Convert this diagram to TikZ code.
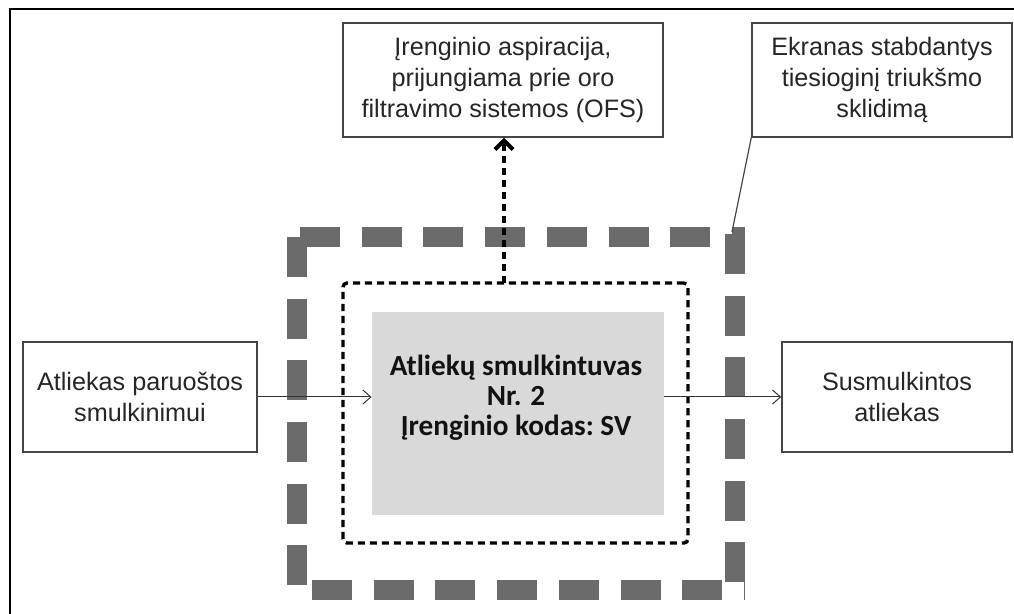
\documentclass[tikz,border=0pt]{standalone}
\usepackage{fontspec}
\setmainfont{Liberation Sans}
\newfontfamily\centerfont{Carlito}
\usetikzlibrary{arrows.meta}
\definecolor{thickgray}{RGB}{107,107,107}
\definecolor{boxline}{RGB}{70,70,70}
\definecolor{txt}{RGB}{38,38,38}
\definecolor{fillgray}{RGB}{217,217,217}
\tikzset{
  infobox/.style={draw=boxline, line width=0.75pt, fill=white, align=center, text=txt,
    font=\fontsize{12.6pt}{15.5pt}\selectfont, inner sep=0pt},
  thickdash/.style={draw=thickgray, line width=10pt, line cap=butt,
    dash pattern=on 20pt off 10.85pt},
  dotline/.style={draw=black, line width=1.7pt, line cap=butt,
    dash pattern=on 3.6pt off 2.4pt},
  flowarrow/.style={draw=black!80, line width=0.5pt, -{Straight Barb[length=4pt,width=7pt]}},
}
\begin{document}
\begin{tikzpicture}[x=0.5pt,y=-0.5pt]
\useasboundingbox (0,0) rectangle (1014,614);
% outer frame (top and left only)
\draw[line width=1pt] (10,614) -- (10,9) -- (1014,9);

% thick dashed screen
\draw[thickdash] (300,237.5) -- (745,237.5);
\draw[thickdash] (735,234) -- (735,600);
\draw[thickdash] (312,590) -- (745,590);
\draw[thickdash] (297,237) -- (297,600);

% inner dotted boundary
\node[draw=black, line width=1.7pt, dash pattern=on 3.6pt off 2.4pt, rounded corners=2pt,
      minimum width=172.5pt, minimum height=130pt, inner sep=0pt] (inner) at (515.5,413) {};

% machine
\node[fill=fillgray, minimum width=146pt, minimum height=101.5pt, inner sep=0pt] (machine) at (518,413.5) {};
\node[align=center, text=black!93, font=\centerfont\bfseries\fontsize{14.6pt}{15pt}\selectfont] (mlabel) at (516,398)
  {Atliekų smulkintuvas\\Nr. 2\\Įrenginio kodas:~SV};

% boxes
\node[infobox, minimum width=160pt, minimum height=57pt] (asp) at (503,80)
  {Įrenginio aspiracija,\\prijungiama prie oro\\filtravimo sistemos (OFS)};
\node[infobox, minimum width=130pt, minimum height=57pt] (ekr) at (882,80)
  {Ekranas stabdantys\\tiesioginį triukšmo\\sklidimą};
\node[infobox, minimum width=117pt, minimum height=55pt] (in) at (140,397)
  {Atliekas paruoštos\\smulkinimui};
\node[infobox, minimum width=115pt, minimum height=55pt] (out) at (897,397)
  {Susmulkintos\\atliekas};

% connectors
\draw[flowarrow] (in.east) -- (in.east -| machine.west);
\draw[flowarrow] (out.west -| machine.east) -- (out.west);
\coordinate (up) at (504,283);
\draw[dotline, -{Straight Barb[length=4.5pt,width=9pt,line width=2pt]}] (up) -- (up |- asp.south);
\coordinate (screencorner) at (732,232);
\draw[draw=boxline, line width=0.6pt] (ekr.south west) -- (screencorner);
\end{tikzpicture}
\end{document}
